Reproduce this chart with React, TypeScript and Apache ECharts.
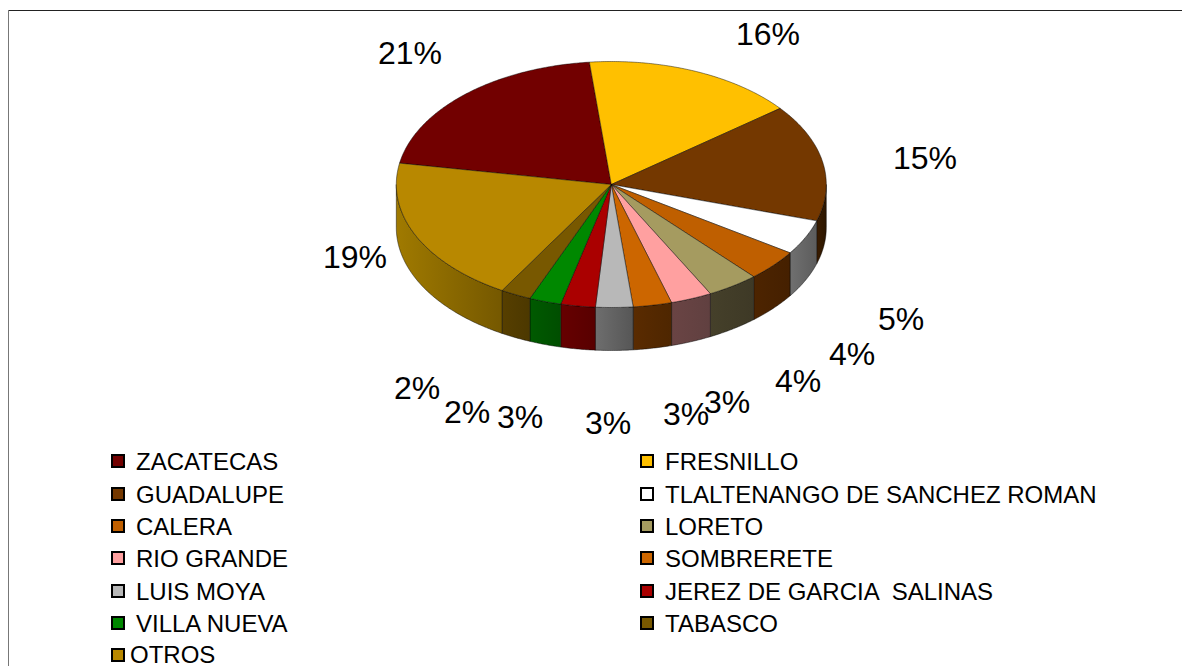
import React, { useEffect, useRef } from "react";
import * as echarts from "echarts";

const categories = [
  "ZACATECAS", "FRESNILLO", "GUADALUPE", "TLALTENANGO DE SANCHEZ ROMAN", "CALERA", "LORETO",
  "RIO GRANDE", "SOMBRERETE", "LUIS MOYA", "JEREZ DE GARCIA  SALINAS", "VILLA NUEVA", "TABASCO", "OTROS",
];
const values = [20.6, 16.0, 15.4, 4.6, 4.1, 3.9, 3.1, 2.9, 2.8, 2.6, 2.4, 2.3, 19.3];

const topColors = [
  "#720000", "#FFC000", "#743800", "#FFFFFF", "#BF5F00", "#A59B60",
  "#FFA0A0", "#CC6600", "#B8B8B8", "#AA0000", "#008800", "#785800", "#B88800",
];
const sideFrom = [
  "#4a0000", "#806000", "#3a1c00", "#707070", "#4d2400", "#45402a",
  "#6a4444", "#5a2b00", "#6e6e6e", "#660000", "#005a00", "#573f00", "#a07a00",
];
const sideTo = [
  "#3a0000", "#705000", "#2c1600", "#5c5c5c", "#452000", "#3e3926",
  "#604040", "#4e2600", "#565656", "#580000", "#004e00", "#4c3800", "#755800",
];

// Label centres, clockwise from ZACATECAS (text placement only).
const labelCenters = [
  [410, 53], [768, 34], [925, 158], [901, 319], [852, 354], [798, 381], [727, 402],
  [686, 414], [608, 423], [520, 417], [467, 412], [417, 388], [355, 257],
];

const CX = 611.3, CY = 184.5, RX = 215, RY = 123, DEPTH = 43, START_DEG = 280;
const LEGEND_ROWS = [461, 494, 526, 558, 591, 623, 654];
const LEGEND_COLS = [118, 647];
const LEGEND_TEXT = [136, 665];

const total = values.reduce((a, b) => a + b, 0);

function rim(deg: number, dy = 0): number[] {
  const r = (deg * Math.PI) / 180;
  return [CX + RX * Math.sin(r), CY - RY * Math.cos(r) + dy];
}

function arc(a: number, b: number, dy = 0): number[][] {
  const pts: number[][] = [];
  const n = Math.max(2, Math.ceil(Math.abs(b - a) * 2));
  for (let i = 0; i <= n; i++) pts.push(rim(a + ((b - a) * i) / n, dy));
  return pts;
}

function sliceAngles(i: number): number[] {
  let before = 0;
  for (let k = 0; k < i; k++) before += values[k];
  const a = START_DEG + (before / total) * 360;
  return [a, a + (values[i] / total) * 360];
}

function wallPieces(a: number, b: number): number[][] {
  // the visible front wall lies between 90deg and 270deg (also +360)
  const out: number[][] = [];
  [0, 360].forEach((off) => {
    const s = Math.max(a, 90 + off), e = Math.min(b, 270 + off);
    if (e > s) out.push([s, e]);
  });
  return out;
}

const renderSlice = (params: any) => {
  const i = params.dataIndex;
  const [a, b] = sliceAngles(i);
  const stroke = "rgba(0,0,0,0.75)";
  const children: any[] = [];
  wallPieces(a, b).forEach(([s, e]) => {
    children.push({
      type: "polygon",
      shape: { points: [...arc(s, e), ...arc(e, s, DEPTH)] },
      style: {
        fill: new echarts.graphic.LinearGradient(0, 0, 1, 0, [
          { offset: 0, color: sideFrom[i] },
          { offset: 1, color: sideTo[i] },
        ]),
        stroke,
        lineWidth: 0.6,
      },
    });
  });
  children.push({
    type: "polygon",
    shape: { points: [[CX, CY], ...arc(a, b)] },
    style: { fill: topColors[i], stroke, lineWidth: 0.6 },
  });
  return { type: "group", children };
};

export default function App() {
  const ref = useRef<HTMLDivElement>(null);
  useEffect(() => {
    if (!ref.current) return;
    const chart = echarts.init(ref.current, undefined, { renderer: "svg" });
    const font = "Liberation Sans, Arial, sans-serif";
    const legendItems: any[] = [];
    categories.forEach((name, i) => {
      const col = i % 2, row = Math.floor(i / 2);
      const y = LEGEND_ROWS[row], x = LEGEND_COLS[col];
      legendItems.push({
        type: "rect",
        shape: { x: x - 6, y: (row === 6 ? 655 : y) - 6, width: 12, height: 12 },
        style: { fill: topColors[i], stroke: "#000", lineWidth: 2 },
      });
      legendItems.push({
        type: "text",
        x: name === "OTROS" ? 130 : LEGEND_TEXT[col],
        y,
        style: {
          text: name, fill: "#000", font: `24px ${font}`,
          textAlign: "left", textVerticalAlign: "middle",
        },
      });
    });
    const pctLabels = values.map((v, i) => ({
      type: "text",
      x: labelCenters[i][0],
      y: labelCenters[i][1],
      style: {
        text: `${Math.round((v / total) * 100)}%`,
        fill: "#000", font: `32px ${font}`,
        textAlign: "center", textVerticalAlign: "middle",
      },
    }));
    chart.setOption({
      animation: false,
      backgroundColor: "#ffffff",
      series: [{
        type: "custom",
        coordinateSystem: "none",
        renderItem: renderSlice,
        data: values,
        silent: true,
      }],
      graphic: [
        { type: "line", shape: { x1: 8, y1: 10.5, x2: 1182, y2: 10.5 }, style: { stroke: "#222", lineWidth: 1 } },
        { type: "line", shape: { x1: 8.5, y1: 10, x2: 8.5, y2: 666 }, style: { stroke: "#777", lineWidth: 1 } },
        ...legendItems,
        ...pctLabels,
      ],
    });
    return () => chart.dispose();
  }, []);
  return <div ref={ref} style={{ position: "fixed", left: 0, top: 0, width: 1182, height: 666 }} />;
}
